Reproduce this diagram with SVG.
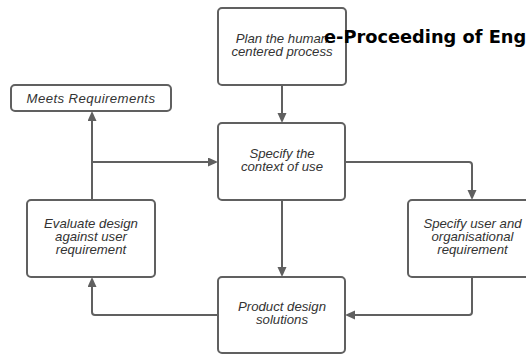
<svg xmlns="http://www.w3.org/2000/svg" width="526" height="358" viewBox="0 0 526 358">
<style>
.box{fill:#fff;stroke:#606060;stroke-width:2}
.lbl{font-family:"Liberation Sans",Arial,sans-serif;font-style:italic;font-size:13.2px;fill:#333;text-anchor:middle}
.conn{fill:none;stroke:#606060;stroke-width:2}
.title{font-family:"DejaVu Sans",sans-serif;font-weight:bold;font-size:17.8px;fill:#000}
</style>
<defs>
<marker id="ah" markerUnits="userSpaceOnUse" markerWidth="11" markerHeight="10" refX="7" refY="4.5" orient="auto">
<path d="M0,0 L10,4.5 L0,9 z" fill="#606060"/>
</marker>
</defs>
<rect width="526" height="358" fill="#fff"/>
<g id="connectors" class="conn" marker-end="url(#ah)">
<path d="M282,85 V120"/>
<path d="M282,200 V274"/>
<path d="M345,162 H469 Q472,162 472,165 V197"/>
<path d="M472,277 V312 Q472,315 469,315 H348"/>
<path d="M218,315 H95 Q92,315 92,312 V280"/>
<path d="M92,200 V114"/>
<path d="M92,162 H215"/>
</g>
<g id="plan">
<rect class="box" x="218" y="8" width="128" height="77" rx="4"/>
<text class="lbl"><tspan x="282" y="42.5">Plan the human</tspan><tspan x="282" y="55.5">centered process</tspan></text>
</g>
<g id="meets">
<rect class="box" x="11" y="85" width="160" height="26" rx="4"/>
<text class="lbl" x="91" y="102.5" letter-spacing="0.4">Meets Requirements</text>
</g>
<g id="specify-context">
<rect class="box" x="218" y="123" width="127" height="77" rx="4"/>
<text class="lbl"><tspan x="282" y="158">Specify the</tspan><tspan x="282" y="171">context of use</tspan></text>
</g>
<g id="evaluate">
<rect class="box" x="27" y="200" width="128" height="77" rx="4"/>
<text class="lbl"><tspan x="91" y="228">Evaluate design</tspan><tspan x="91" y="241">against user</tspan><tspan x="91" y="254">requirement</tspan></text>
</g>
<g id="product">
<rect class="box" x="218" y="277" width="127" height="76" rx="4"/>
<text class="lbl"><tspan x="282" y="310.5">Product design</tspan><tspan x="282" y="323.5">solutions</tspan></text>
</g>
<g id="user-req">
<rect class="box" x="408" y="200" width="128" height="77" rx="4"/>
<text class="lbl"><tspan x="472.5" y="228">Specify user and</tspan><tspan x="472.5" y="241">organisational</tspan><tspan x="472.5" y="254">requirement</tspan></text>
</g>
<text class="title" x="324" y="42.5">e-Proceeding of Eng</text>
</svg>
